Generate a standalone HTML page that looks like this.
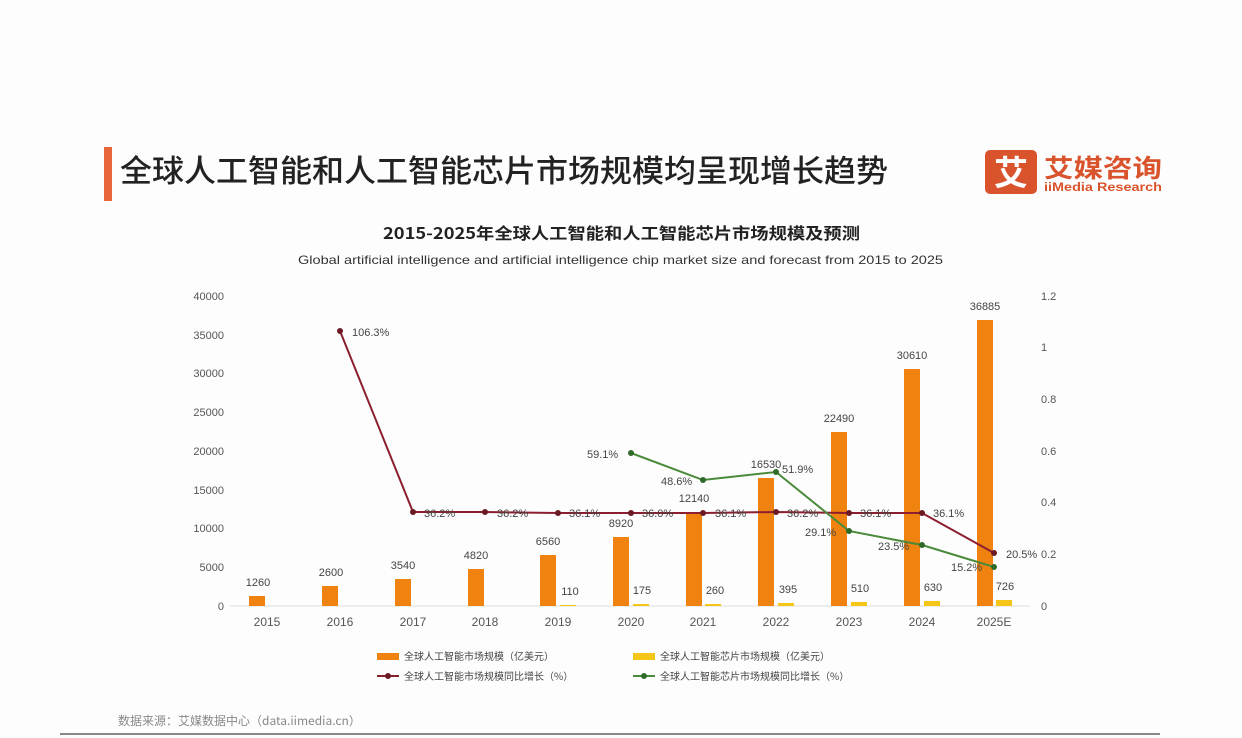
<!DOCTYPE html>
<html><head><meta charset="utf-8"><style>
body{margin:0;background:#fdfdfd;}
svg{display:block;font-family:"Liberation Sans","Noto Sans CJK SC",sans-serif;}
</style></head><body>
<svg width="1242" height="738" viewBox="0 0 1242 738" xmlns="http://www.w3.org/2000/svg">
<rect width="1242" height="738" fill="#fdfdfd"/>
<rect x="104" y="147" width="8" height="54" fill="#e8643a"/>
<text x="120" y="182" font-size="31" fill="#222" font-weight="500" textLength="768" lengthAdjust="spacingAndGlyphs" font-family="Noto Sans CJK SC,sans-serif">全球人工智能和人工智能芯片市场规模均呈现增长趋势</text>
<rect x="985" y="150" width="52" height="44" rx="5" fill="#d9542c"/>
<text x="1011" y="185" font-size="34" fill="#fff" text-anchor="middle" font-weight="bold" font-family="Noto Sans CJK SC,sans-serif">艾</text>
<text x="1044" y="177" font-size="25" fill="#d9542c" font-weight="bold" textLength="118" lengthAdjust="spacingAndGlyphs" font-family="Noto Sans CJK SC,sans-serif">艾媒咨询</text>
<text x="1044" y="191" font-size="12" fill="#d9542c" font-weight="bold" textLength="118" lengthAdjust="spacingAndGlyphs">iiMedia Research</text>
<text x="383" y="239" font-size="16" fill="#222" font-weight="bold" textLength="477" lengthAdjust="spacingAndGlyphs" font-family="Noto Sans CJK SC,sans-serif">2015-2025年全球人工智能和人工智能芯片市场规模及预测</text>
<text x="298" y="264" font-size="12" fill="#333" textLength="645" lengthAdjust="spacingAndGlyphs">Global artificial intelligence and artificial intelligence chip market size and forecast from 2015 to 2025</text>
<g font-size="11" fill="#555" text-anchor="end">
<text x="224" y="300">40000</text><text x="224" y="339">35000</text><text x="224" y="377">30000</text><text x="224" y="416">25000</text><text x="224" y="455">20000</text><text x="224" y="494">15000</text><text x="224" y="532">10000</text><text x="224" y="571">5000</text><text x="224" y="610">0</text>
</g>
<g font-size="11" fill="#555" text-anchor="start">
<text x="1041" y="300">1.2</text><text x="1041" y="351">1</text><text x="1041" y="403">0.8</text><text x="1041" y="455">0.6</text><text x="1041" y="506">0.4</text><text x="1041" y="558">0.2</text><text x="1041" y="610">0</text>
</g>
<line x1="230" y1="606" x2="1030" y2="606" stroke="#ddd"/>
<g fill="#f0820f">
<rect x="249" y="596" width="16" height="10"/>
<rect x="322" y="586" width="16" height="20"/>
<rect x="395" y="579" width="16" height="27"/>
<rect x="468" y="569" width="16" height="37"/>
<rect x="540" y="555" width="16" height="51"/>
<rect x="613" y="537" width="16" height="69"/>
<rect x="686" y="512" width="16" height="94"/>
<rect x="758" y="478" width="16" height="128"/>
<rect x="831" y="432" width="16" height="174"/>
<rect x="904" y="369" width="16" height="237"/>
<rect x="977" y="320" width="16" height="286"/>
</g>
<g fill="#f5c518">
<rect x="560" y="605" width="16" height="1"/>
<rect x="633" y="604" width="16" height="2"/>
<rect x="705" y="604" width="16" height="2"/>
<rect x="778" y="603" width="16" height="3"/>
<rect x="851" y="602" width="16" height="4"/>
<rect x="924" y="601" width="16" height="5"/>
<rect x="996" y="600" width="16" height="6"/>
</g>
<g font-size="11" fill="#444" text-anchor="middle">
<text x="258" y="586">1260</text><text x="331" y="576">2600</text><text x="403" y="569">3540</text><text x="476" y="559">4820</text><text x="548" y="545">6560</text><text x="621" y="527">8920</text><text x="694" y="502">12140</text><text x="766" y="468">16530</text><text x="839" y="422">22490</text><text x="912" y="359">30610</text><text x="985" y="310">36885</text>
<text x="570" y="595">110</text><text x="642" y="594">175</text><text x="715" y="594">260</text><text x="788" y="593">395</text><text x="860" y="592">510</text><text x="933" y="591">630</text><text x="1005" y="590">726</text>
</g>
<polyline fill="none" stroke="#8b1f2f" stroke-width="2" points="340,331 413,512 485,512 558,513 631,513 703,513 776,512 849,513 922,513 994,553"/>
<g fill="#6b1a24"><circle cx="340" cy="331" r="3"/><circle cx="413" cy="512" r="3"/><circle cx="485" cy="512" r="3"/><circle cx="558" cy="513" r="3"/><circle cx="631" cy="513" r="3"/><circle cx="703" cy="513" r="3"/><circle cx="776" cy="512" r="3"/><circle cx="849" cy="513" r="3"/><circle cx="922" cy="513" r="3"/><circle cx="994" cy="553" r="3"/></g>
<polyline fill="none" stroke="#4a8a3a" stroke-width="2" points="631,453 703,480 776,472 849,531 922,545 994,567"/>
<g fill="#2f6a2a"><circle cx="631" cy="453" r="3"/><circle cx="703" cy="480" r="3"/><circle cx="776" cy="472" r="3"/><circle cx="849" cy="531" r="3"/><circle cx="922" cy="545" r="3"/><circle cx="994" cy="567" r="3"/></g>
<g font-size="11" fill="#444">
<text x="352" y="336">106.3%</text>
<text x="424" y="517">36.2%</text><text x="497" y="517">36.2%</text><text x="569" y="517">36.1%</text><text x="642" y="517">36.0%</text><text x="715" y="517">36.1%</text><text x="787" y="517">36.2%</text><text x="860" y="517">36.1%</text><text x="933" y="517">36.1%</text><text x="1006" y="558">20.5%</text>
<text x="587" y="458">59.1%</text><text x="661" y="485">48.6%</text><text x="782" y="473">51.9%</text><text x="805" y="536">29.1%</text><text x="878" y="550">23.5%</text><text x="951" y="571">15.2%</text>
</g>
<g font-size="12" fill="#555" text-anchor="middle">
<text x="267" y="626">2015</text><text x="340" y="626">2016</text><text x="413" y="626">2017</text><text x="485" y="626">2018</text><text x="558" y="626">2019</text><text x="631" y="626">2020</text><text x="703" y="626">2021</text><text x="776" y="626">2022</text><text x="849" y="626">2023</text><text x="922" y="626">2024</text><text x="994" y="626">2025E</text>
</g>
<g font-size="10" fill="#444" font-family="Noto Sans CJK SC,sans-serif">
<rect x="377" y="653" width="22" height="7" fill="#f0820f"/><text x="404" y="660">全球人工智能市场规模（亿美元）</text>
<rect x="633" y="653" width="22" height="7" fill="#f5c518"/><text x="660" y="660">全球人工智能芯片市场规模（亿美元）</text>
<line x1="377" y1="676" x2="399" y2="676" stroke="#8b1f2f" stroke-width="2"/><circle cx="388" cy="676" r="3" fill="#6b1a24"/><text x="404" y="680">全球人工智能市场规模同比增长（%）</text>
<line x1="633" y1="676" x2="655" y2="676" stroke="#4a8a3a" stroke-width="2"/><circle cx="644" cy="676" r="3" fill="#2f6a2a"/><text x="660" y="680">全球人工智能芯片市场规模同比增长（%）</text>
</g>
<text x="118" y="725" font-size="12" fill="#888" font-family="Noto Sans CJK SC,sans-serif">数据来源：艾媒数据中心（data.iimedia.cn）</text>
<line x1="60" y1="734" x2="1160" y2="734" stroke="#888" stroke-width="2"/>
</svg>
</body></html>
